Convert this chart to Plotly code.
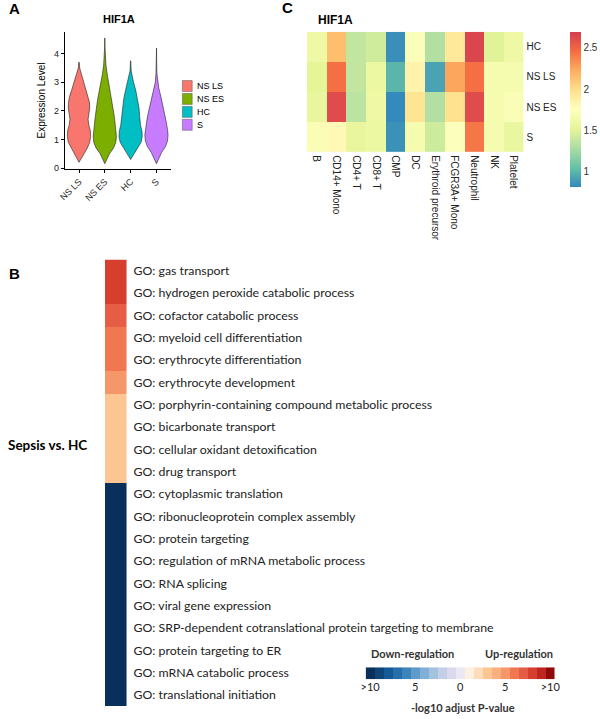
import plotly.graph_objects as go

W, H = 600, 719

# ---------------- Panel A: violin profiles ----------------
groups = ["NS LS", "NS ES", "HC", "S"]
group_colors = ["#F8766D", "#7CAE00", "#00BFC4", "#C77CFF"]

nsls_y = [0.2, 0.35, 0.5, 0.7, 0.9, 1.1, 1.3, 1.5, 1.7, 1.9, 2.1, 2.3, 2.5, 2.7, 2.9, 3.1, 3.3, 3.5, 3.7]
nsls_w = [0.0, 0.2, 0.42, 0.72, 0.92, 1.0, 0.98, 0.85, 0.78, 0.85, 0.92, 0.9, 0.82, 0.65, 0.5, 0.35, 0.2, 0.06, 0.02]
nses_y = [0.15, 0.3, 0.5, 0.7, 0.9, 1.1, 1.3, 1.5, 1.8, 2.1, 2.4, 2.7, 3.0, 3.3, 3.6, 3.9, 4.2, 4.55]
nses_w = [0.0, 0.15, 0.4, 0.75, 0.95, 1.0, 0.97, 0.9, 0.82, 0.75, 0.62, 0.48, 0.33, 0.2, 0.1, 0.05, 0.02, 0.01]
hc_y = [0.3, 0.5, 0.7, 0.9, 1.1, 1.3, 1.5, 1.8, 2.1, 2.4, 2.7, 3.0, 3.2, 3.4, 3.75]
hc_w = [0.0, 0.3, 0.6, 0.9, 1.0, 0.97, 0.85, 0.78, 0.72, 0.6, 0.45, 0.25, 0.12, 0.05, 0.01]
s_y = [0.15, 0.35, 0.55, 0.75, 0.95, 1.15, 1.35, 1.6, 1.9, 2.2, 2.5, 2.8, 3.0, 3.3, 3.7, 4.2]
s_w = [0.0, 0.2, 0.45, 0.78, 0.95, 1.0, 0.95, 0.85, 0.72, 0.55, 0.38, 0.2, 0.1, 0.04, 0.02, 0.01]
profiles = [(nsls_y, nsls_w), (nses_y, nses_w), (hc_y, hc_w), (s_y, s_w)]
a_yticks = [0, 1, 2, 3, 4]

# ---------------- Panel C: heatmap ----------------
cell_types = ["B", "CD14+ Mono", "CD4+ T", "CD8+ T", "CMP", "DC", "Erythroid precursor",
              "FCGR3A+ Mono", "Neutrophil", "NK", "Platelet"]
conditions = ["HC", "NS LS", "NS ES", "S"]
hc_vals = [1.60, 2.15, 1.38, 1.43, 0.85, 1.72, 1.32, 1.92, 2.65, 1.50, 1.60]
nsls_vals = [1.52, 2.45, 1.38, 1.58, 1.00, 1.85, 0.93, 2.25, 2.45, 1.66, 1.66]
nses_vals = [1.55, 2.62, 1.35, 1.60, 0.83, 1.95, 1.32, 1.97, 2.62, 1.66, 1.70]
s_vals = [1.70, 1.80, 1.55, 1.58, 0.86, 1.66, 1.42, 1.73, 2.42, 1.66, 1.57]
c_cbar_ticks = [1, 1.5, 2, 2.5]
c_cbar_text = ["1", "1.5", "2", "2.5"]
spectral_rev = ["#3288BD", "#66C2A5", "#ABDDA4", "#E6F598", "#FFFFBF",
                "#FEE08B", "#FDAE61", "#F46D43", "#D53E4F"]

# ---------------- Panel B: GO terms ----------------
go_terms = [
    "GO: gas transport",
    "GO: hydrogen peroxide catabolic process",
    "GO: cofactor catabolic process",
    "GO: myeloid cell differentiation",
    "GO: erythrocyte differentiation",
    "GO: erythrocyte development",
    "GO: porphyrin-containing compound metabolic process",
    "GO: bicarbonate transport",
    "GO: cellular oxidant detoxification",
    "GO: drug transport",
    "GO: cytoplasmic translation",
    "GO: ribonucleoprotein complex assembly",
    "GO: protein targeting",
    "GO: regulation of mRNA metabolic process",
    "GO: RNA splicing",
    "GO: viral gene expression",
    "GO: SRP-dependent cotranslational protein targeting to membrane",
    "GO: protein targeting to ER",
    "GO: mRNA catabolic process",
    "GO: translational initiation",
]
go_signed_logp = [8, 8, 7, 6, 6, 5, 3, 3, 3, 3,
                  -10, -10, -10, -10, -10, -10, -10, -10, -10, -10]
legend_steps = list(range(-10, 11))
legend_tickvals = [-10, -5, 0, 5, 10]
legend_ticktext = [">10", "5", "0", "5", ">10"]
rdbu_steps = ["#08305A", "#0F4479", "#165A95", "#276FAA", "#3E84BC", "#5E9ACA", "#80B0D6",
              "#A3C2DF", "#C2CFE7", "#DAD9EE", "#ECE8F3", "#FEF0E0", "#FDDDB9", "#FCC692",
              "#F9AF7E", "#F6976A", "#F07750", "#E55D45", "#D63E2D", "#BE2420", "#8E0A0A"]


def px_x(x):
    return x / W


def px_y(y):
    return 1 - y / H


fig = go.Figure()

# ---- violins
for i, (g, col, (ys, ws)) in enumerate(zip(groups, group_colors, profiles)):
    xs = [i - 0.45 * w for w in ws] + [i + 0.45 * w for w in reversed(ws)]
    yy = list(ys) + list(reversed(ys))
    fig.add_trace(go.Scatter(x=xs, y=yy, mode="lines", fill="toself", fillcolor=col,
                             line=dict(color="#222222", width=0.6), name=g,
                             showlegend=False, hoverinfo="skip", xaxis="x", yaxis="y"))

arial = "Liberation Sans"
lato = "Lato"

# ---- heatmap C
fig.add_trace(go.Heatmap(
    z=[hc_vals, nsls_vals, nses_vals, s_vals], x=cell_types, y=conditions,
    colorscale=[[i / (len(spectral_rev) - 1), c] for i, c in enumerate(spectral_rev)],
    zmin=0.82, zmax=2.69, xaxis="x2", yaxis="y2",
    colorbar=dict(x=px_x(576), xanchor="left", y=px_y(32), yanchor="top",
                  len=156 / H, lenmode="fraction", thickness=11, outlinewidth=0,
                  tickvals=c_cbar_ticks, ticktext=c_cbar_text,
                  ticks="", tickfont=dict(family=arial, size=10, color="#333"),
                  xpad=0, ypad=0)))

# ---- GO bar B
fig.add_trace(go.Heatmap(
    z=[[v] for v in go_signed_logp], x=[0], y=go_terms,
    colorscale=[[(v + 10) / 20, c] for v, c in zip(legend_steps, rdbu_steps)],
    zmin=-10, zmax=10, showscale=False, xaxis="x3", yaxis="y3", hoverinfo="skip"))

# ---- legend bar B
fig.add_trace(go.Heatmap(
    z=[legend_steps], x=legend_steps, y=[0],
    colorscale=[[(v + 10) / 20, c] for v, c in zip(legend_steps, rdbu_steps)],
    zmin=-10, zmax=10, showscale=False, xaxis="x4", yaxis="y4", hoverinfo="skip"))

fig.update_layout(
    width=W, height=H, autosize=False, margin=dict(l=0, r=0, t=0, b=0),
    paper_bgcolor="white", plot_bgcolor="white", showlegend=False,
    font=dict(family=arial, color="black"),
    # Panel A
    xaxis=dict(domain=[px_x(60), px_x(168)], range=[-0.55, 3.55],
               tickvals=list(range(len(groups))), ticktext=groups, tickangle=-45,
               showline=True, linecolor="black", linewidth=0.8, ticks="outside", ticklen=3,
               tickcolor="black", tickwidth=0.8, showgrid=False, zeroline=False,
               tickfont=dict(family=arial, size=9, color="#222"), anchor="y"),
    yaxis=dict(domain=[px_y(170), px_y(32)], range=[-0.035, 4.765],
               tickvals=a_yticks, showline=True, linecolor="black", linewidth=0.8,
               ticks="outside", ticklen=3, tickcolor="black", tickwidth=0.8,
               showgrid=False, zeroline=False,
               tickfont=dict(family=arial, size=9, color="#222"), anchor="x",
               title=dict(text="Expression Level", font=dict(family=arial, size=10), standoff=6)),
    # Panel C
    xaxis2=dict(domain=[px_x(307), px_x(528)], anchor="y2", tickangle=90, ticks="",
                showgrid=False, zeroline=False, showline=False,
                tickfont=dict(family=arial, size=10, color="#222"), ticklabelstandoff=2),
    yaxis2=dict(domain=[px_y(153), px_y(32)], anchor="x2", side="right",
                autorange="reversed", ticks="", showgrid=False, zeroline=False,
                tickfont=dict(family=arial, size=10, color="#222"), ticklabelstandoff=2),
    # Panel B bar
    xaxis3=dict(domain=[px_x(101), px_x(123)], anchor="y3", visible=False),
    yaxis3=dict(domain=[px_y(710), px_y(261)], anchor="x3", side="right",
                autorange="reversed", ticks="", showgrid=False, zeroline=False,
                tickfont=dict(family=lato, size=12.3, color="#222"), ticklabelstandoff=6),
    # Panel B legend
    xaxis4=dict(domain=[px_x(367), px_x(560)], anchor="y4", range=[-10.5, 10.5],
                tickvals=legend_tickvals, ticktext=legend_ticktext, ticks="",
                showgrid=False, zeroline=False,
                tickfont=dict(family=lato, size=11, color="#222")),
    yaxis4=dict(domain=[px_y(683), px_y(671)], anchor="x4", visible=False),
)

ann = []


def add_text(x, y, text, size, bold=False, xanchor="center", family=arial, color="black"):
    ann.append(dict(x=px_x(x), y=px_y(y), xref="paper", yref="paper",
                    text=(f"<b>{text}</b>" if bold else text),
                    showarrow=False, xanchor=xanchor, yanchor="middle",
                    font=dict(family=family, size=size, color=color)))


add_text(8.5, 9, "A", 15, True)
add_text(8.5, 275, "B", 15, True)
add_text(287, 8, "C", 15, True)
add_text(115, 19, "HIF1A", 11, True)
add_text(316, 20, "HIF1A", 12, True, "left")
add_text(0, 447, "Sepsis vs. HC", 13.5, True, "left", lato)
add_text(370, 657, "Down-regulation", 11, True, "left", lato, "#333")
add_text(560, 657, "Up-regulation", 11, True, "right", lato, "#333")
add_text(466, 711, "-log10 adjust P-value", 11, True, "center", lato, "#333")

# legend for panel A
leg_y = [86.5, 99.5, 112.5, 125.5]
shapes = []
for g, col, yy in zip(groups, group_colors, leg_y):
    shapes.append(dict(type="rect", xref="paper", yref="paper", x0=px_x(180), x1=px_x(190),
                       y0=px_y(yy + 5.5), y1=px_y(yy - 5.5), fillcolor=col,
                       line=dict(color="#555", width=0.5)))
    add_text(193, yy, g, 9, False, "left")

fig.update_layout(annotations=ann, shapes=shapes)
fig.write_html("out.html", config={"displayModeBar": False},
               post_script="document.body.style.margin='0';document.body.style.overflow='hidden';")
